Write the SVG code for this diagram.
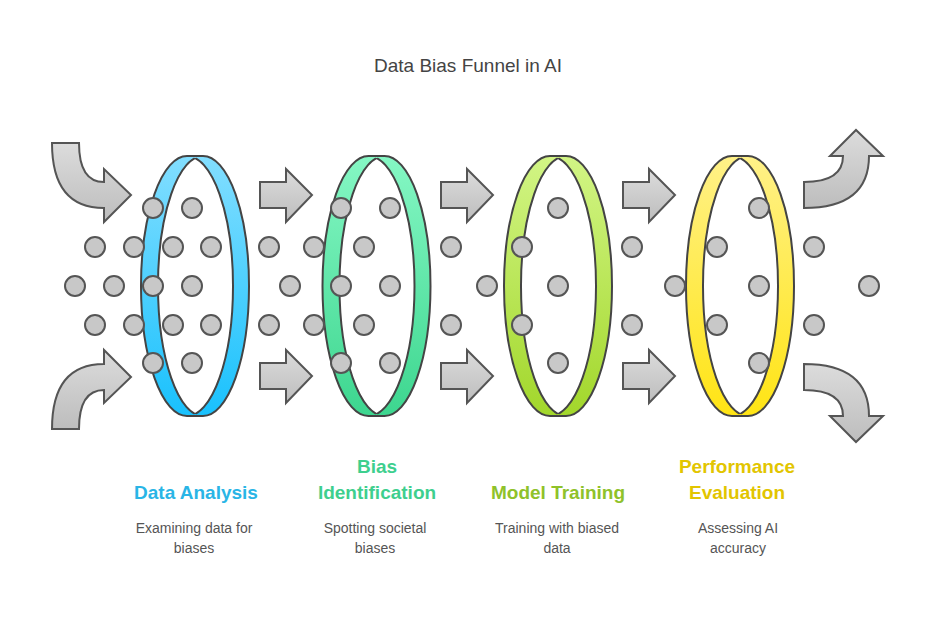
<svg xmlns="http://www.w3.org/2000/svg" width="936" height="625" viewBox="0 0 936 625">
<defs>
<linearGradient id="gr" x1="0" y1="0" x2="0" y2="1"><stop offset="0" stop-color="#dcdcdc"/><stop offset="1" stop-color="#bdbdbd"/></linearGradient>
<linearGradient id="g1" x1="0" y1="0" x2="0" y2="1"><stop offset="0" stop-color="#82deff"/><stop offset="1" stop-color="#19c1fd"/></linearGradient>
<linearGradient id="g2" x1="0" y1="0" x2="0" y2="1"><stop offset="0" stop-color="#85f7c4"/><stop offset="1" stop-color="#3dd68f"/></linearGradient>
<linearGradient id="g3" x1="0" y1="0" x2="0" y2="1"><stop offset="0" stop-color="#d2f585"/><stop offset="1" stop-color="#a2d72b"/></linearGradient>
<linearGradient id="g4" x1="0" y1="0" x2="0" y2="1"><stop offset="0" stop-color="#fff188"/><stop offset="1" stop-color="#ffe414"/></linearGradient>
<clipPath id="cb"><ellipse cx="203" cy="286" rx="45" ry="130"/></clipPath>
<clipPath id="cf"><ellipse cx="187" cy="286" rx="46" ry="130"/></clipPath>
<g id="ring">
<path d="M187,156 A46,130 0 0 0 187,416 H203 A46,130 0 0 0 203,156 Z" stroke="#444" stroke-width="2"/>
<ellipse cx="187" cy="286" rx="46" ry="130" fill="#fff" stroke="#444" stroke-width="2" clip-path="url(#cb)"/>
<ellipse cx="203" cy="286" rx="45" ry="130" fill="none" stroke="#444" stroke-width="2" clip-path="url(#cf)"/>
</g>
</defs>
<style>
.a{fill:url(#gr);stroke:#555;stroke-width:2}
.d{fill:#c8c8c8;stroke:#555;stroke-width:2}
.t{font-family:"Liberation Sans",Arial,sans-serif;text-anchor:middle}
.h{font-size:19px;font-weight:bold}
.s{font-size:14px;fill:#555}
</style>
<text class="t" x="468" y="72" font-size="19" fill="#444">Data Bias Funnel in AI</text>
<g id="connectors">
<path class="a" d="M52,143 H79 Q79,182 104,182 V169 L131,195 L104,222 V208 Q52,208 52,143 Z"/>
<path class="a" d="M52,429 H79 Q79,390 104,390 V403 L131,377 L104,350 V364 Q52,364 52,429 Z"/>
<path class="a" d="M804,182 Q843,182 843,156 H830 L856,130 L883,156 H869 Q869,208 804,208 Z"/>
<path class="a" d="M804,390 Q843,390 843,416 H830 L856,442 L883,416 H869 Q869,364 804,364 Z"/>
<g id="straight">
<path class="a" d="M260,182 H286 V169 L312,195 L286,222 V208 H260 Z"/>
<path class="a" d="M260,363 H286 V350 L312,376 L286,403 V389 H260 Z"/>
<path class="a" d="M441,182 H467 V169 L493,195 L467,222 V208 H441 Z"/>
<path class="a" d="M441,363 H467 V350 L493,376 L467,403 V389 H441 Z"/>
<path class="a" d="M623,182 H649 V169 L675,195 L649,222 V208 H623 Z"/>
<path class="a" d="M623,363 H649 V350 L675,376 L649,403 V389 H623 Z"/>
</g>
</g>
<g id="hidden-dots">
<circle class="d" cx="231" cy="286" r="10"/><circle class="d" cx="412" cy="247" r="10"/><circle class="d" cx="412" cy="325" r="10"/><circle class="d" cx="590" cy="247" r="10"/><circle class="d" cx="590" cy="325" r="10"/>
</g>
<g id="ring1"><use href="#ring" fill="url(#g1)"/></g>
<g id="ring2"><use href="#ring" fill="url(#g2)" x="181.5"/></g>
<g id="ring3"><use href="#ring" fill="url(#g3)" x="363"/></g>
<g id="ring4"><use href="#ring" fill="url(#g4)" x="545"/></g>
<g id="dots">
<circle class="d" cx="153" cy="208" r="10"/><circle class="d" cx="192" cy="208" r="10"/>
<circle class="d" cx="95" cy="247" r="10"/><circle class="d" cx="134" cy="247" r="10"/><circle class="d" cx="173" cy="247" r="10"/><circle class="d" cx="211" cy="247" r="10"/>
<circle class="d" cx="75" cy="286" r="10"/><circle class="d" cx="114" cy="286" r="10"/><circle class="d" cx="153" cy="286" r="10"/><circle class="d" cx="192" cy="286" r="10"/>
<circle class="d" cx="95" cy="325" r="10"/><circle class="d" cx="134" cy="325" r="10"/><circle class="d" cx="173" cy="325" r="10"/><circle class="d" cx="211" cy="325" r="10"/>
<circle class="d" cx="153" cy="363" r="10"/><circle class="d" cx="192" cy="363" r="10"/>
<circle class="d" cx="269" cy="247" r="10"/><circle class="d" cx="314" cy="247" r="10"/><circle class="d" cx="364" cy="247" r="10"/><circle class="d" cx="451" cy="247" r="10"/>
<circle class="d" cx="290" cy="286" r="10"/><circle class="d" cx="341" cy="286" r="10"/><circle class="d" cx="390" cy="286" r="10"/><circle class="d" cx="487" cy="286" r="10"/>
<circle class="d" cx="269" cy="325" r="10"/><circle class="d" cx="314" cy="325" r="10"/><circle class="d" cx="364" cy="325" r="10"/><circle class="d" cx="451" cy="325" r="10"/>
<circle class="d" cx="341" cy="208" r="10"/><circle class="d" cx="390" cy="208" r="10"/><circle class="d" cx="341" cy="363" r="10"/><circle class="d" cx="390" cy="363" r="10"/>
<circle class="d" cx="558" cy="208" r="10"/><circle class="d" cx="522" cy="247" r="10"/><circle class="d" cx="632" cy="247" r="10"/>
<circle class="d" cx="558" cy="286" r="10"/><circle class="d" cx="675" cy="286" r="10"/>
<circle class="d" cx="522" cy="325" r="10"/><circle class="d" cx="632" cy="325" r="10"/><circle class="d" cx="558" cy="363" r="10"/>
<circle class="d" cx="759" cy="208" r="10"/><circle class="d" cx="717" cy="247" r="10"/><circle class="d" cx="814" cy="247" r="10"/>
<circle class="d" cx="759" cy="286" r="10"/><circle class="d" cx="869" cy="286" r="10"/>
<circle class="d" cx="717" cy="325" r="10"/><circle class="d" cx="814" cy="325" r="10"/><circle class="d" cx="759" cy="363" r="10"/>
</g>
<g id="label1"><text class="t h" x="196" y="499" fill="#29b5e6">Data Analysis</text>
<text class="t s" x="194" y="533">Examining data for</text><text class="t s" x="194" y="553">biases</text></g>
<g id="label2"><text class="t h" x="377" y="473" fill="#3ecf8e">Bias</text><text class="t h" x="377" y="499" fill="#3ecf8e">Identification</text>
<text class="t s" x="375" y="533">Spotting societal</text><text class="t s" x="375" y="553">biases</text></g>
<g id="label3"><text class="t h" x="558" y="499" fill="#8fc22a">Model Training</text>
<text class="t s" x="557" y="533">Training with biased</text><text class="t s" x="557" y="553">data</text></g>
<g id="label4"><text class="t h" x="737" y="473" fill="#e2c500">Performance</text><text class="t h" x="737" y="499" fill="#e2c500">Evaluation</text>
<text class="t s" x="738" y="533">Assessing AI</text><text class="t s" x="738" y="553">accuracy</text></g>
</svg>
